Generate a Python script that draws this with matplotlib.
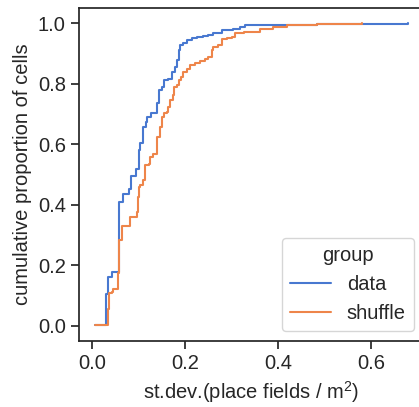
import numpy as np
import matplotlib
matplotlib.use("Agg")
import matplotlib.pyplot as plt
import seaborn as sns

# step points of the cumulative curves
data_x = [0.007, 0.031, 0.035, 0.042, 0.057, 0.059, 0.067, 0.080, 0.084, 0.095,
          0.100, 0.103, 0.109, 0.110, 0.116, 0.119, 0.126, 0.139, 0.143, 0.145,
          0.150, 0.155, 0.164, 0.171, 0.178, 0.182, 0.186, 0.189, 0.196, 0.204,
          0.214, 0.225, 0.239, 0.250, 0.261, 0.279, 0.304, 0.318, 0.330, 0.362,
          0.483, 0.680]
data_p = [0.004, 0.106, 0.163, 0.177, 0.328, 0.410, 0.436, 0.452, 0.495, 0.518,
          0.581, 0.603, 0.608, 0.658, 0.674, 0.691, 0.702, 0.735, 0.760, 0.779,
          0.790, 0.812, 0.817, 0.839, 0.856, 0.878, 0.911, 0.927, 0.935, 0.944,
          0.950, 0.953, 0.957, 0.960, 0.966, 0.977, 0.982, 0.988, 0.993, 0.995,
          0.997, 1.000]

shuffle_x = [0.007, 0.035, 0.036, 0.042, 0.046, 0.0565, 0.058, 0.064, 0.082, 0.096,
             0.098, 0.101, 0.104, 0.109, 0.114, 0.122, 0.125, 0.132, 0.139, 0.146,
             0.147, 0.150, 0.155, 0.162, 0.164, 0.168, 0.174, 0.176, 0.182, 0.186,
             0.191, 0.196, 0.204, 0.211, 0.222, 0.232, 0.243, 0.250, 0.257, 0.261,
             0.272, 0.279, 0.290, 0.300, 0.307, 0.320, 0.326, 0.361, 0.390, 0.419,
             0.455, 0.483, 0.580]
shuffle_p = [0.002, 0.055, 0.108, 0.113, 0.121, 0.174, 0.284, 0.330, 0.361, 0.377,
             0.427, 0.460, 0.465, 0.482, 0.531, 0.535, 0.559, 0.568, 0.625, 0.630,
             0.658, 0.691, 0.702, 0.708, 0.724, 0.746, 0.762, 0.790, 0.795, 0.812,
             0.823, 0.839, 0.850, 0.861, 0.869, 0.876, 0.880, 0.889, 0.911, 0.922,
             0.927, 0.946, 0.950, 0.955, 0.966, 0.968, 0.971, 0.980, 0.988, 0.993,
             0.995, 0.997, 1.000]

groups = ["data", "shuffle"]

sns.set_theme(style="ticks", palette="muted")
plt.rcParams["font.family"] = ["Liberation Sans", "DejaVu Sans"]
plt.rcParams["mathtext.fontset"] = "custom"
plt.rcParams["mathtext.rm"] = "Liberation Sans"

fig = plt.figure(figsize=(4.19, 4.07), dpi=100)
# right spine sits just past the image edge, as in the reference
ax = fig.add_axes([79 / 419, 66 / 407, 345 / 419, 333 / 407])

cols = sns.color_palette("muted")
ax.step(data_x, data_p, where="post", color=cols[0], lw=1.5, label=groups[0])
ax.step(shuffle_x, shuffle_p, where="post", color=cols[1], lw=1.5, label=groups[1])

ax.set_xlim(-0.028, 0.714)
ax.set_ylim(-0.05, 1.05)
ax.set_xticks([0.0, 0.2, 0.4, 0.6])
ax.set_yticks([0.0, 0.2, 0.4, 0.6, 0.8, 1.0])
ax.tick_params(labelsize=14.5, length=6, width=1.25)
ax.set_xlabel("st.dev.(place fields / m$^2$)", fontsize=14.5)
ax.set_ylabel("cumulative proportion of cells", fontsize=14.5)

leg = ax.legend(title="group", loc="lower right", fontsize=14.5, title_fontsize=14.5)

fig.savefig("out.png", dpi=100)
